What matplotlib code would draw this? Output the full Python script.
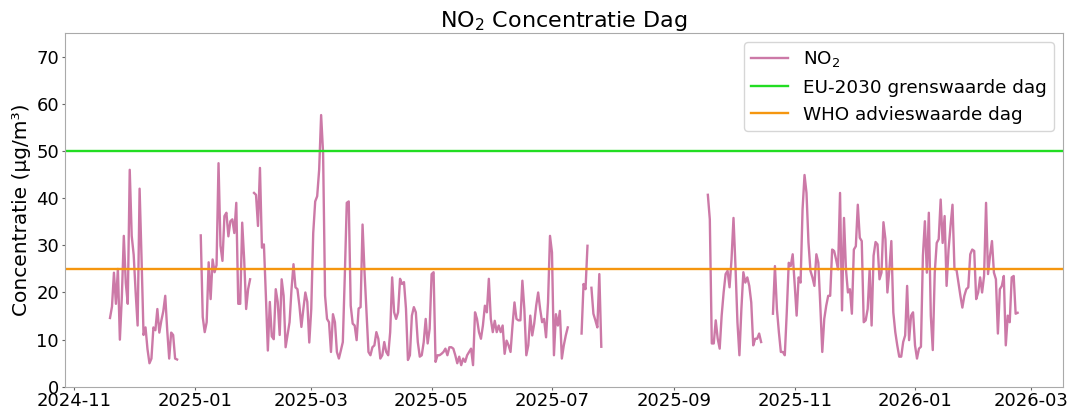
import numpy as np
import pandas as pd
import matplotlib
matplotlib.use('Agg')
import matplotlib.pyplot as plt
import matplotlib.dates as mdates

# daily NO2 values (ug/m3), one list per measured stretch
seg1_start = '2024-11-19'
seg1 = [14.6, 17, 24.2, 17.6, 25, 10, 19, 32, 22, 17.6, 46, 32, 28, 20, 13, 42, 27, 11, 12.6, 8,
        5, 6, 12.6, 12, 16.5, 11.5, 14, 16, 19.3, 12, 6, 11.5, 11, 6, 5.8]

seg2_start = '2025-01-04'
seg2 = [32.1, 14.8, 11.6, 13.7, 26.4, 18.6, 27, 24.3, 25.8, 47.4, 29.9, 26.7, 36.2, 36.9, 31.9,
        35.1, 35.5, 32.6, 39, 17.6, 17.6, 34.8, 27, 16.5, 20.7, 22.8]

seg3_start = '2025-01-31'
seg3 = [41.1, 40.7, 34.1, 46.4, 29.5, 30.2, 19.3, 7.7, 18, 10.7, 10.1, 20.7, 18, 11, 22.8, 19.3,
        8.4, 11, 13.7, 20.7, 26, 21.1, 20.7, 17.2, 12.7, 16.5, 20, 18, 9.4, 16.5, 32.6, 39.3, 40.4,
        46, 57.6, 49.5, 19.3, 14.4, 13.7, 7.4, 15.4, 13.7, 7.4, 6, 7.7, 9.5, 23.5, 39, 39.3,
        17.2, 13.4, 13, 9.9, 16.6, 16.9, 34.4, 24.3, 15.8, 7.4, 6.7, 8.4, 8.8, 11.6, 10.2, 6, 6.7,
        9.5, 7.4, 6.7, 11.6, 23.2, 15.8, 14.4, 15.8, 22.9, 21.8, 22.2, 16.6, 5.7, 6.7, 15.1, 16.9,
        15.8, 9.5, 6.4, 6.7, 9.5, 14.4, 9.2, 12.3, 23.9, 24.3, 5.3, 6.7, 6.7, 7, 7.4, 8.1, 6.7, 8.4,
        8.4, 8.1, 6.7, 5, 6.4, 4.6, 6, 5.3, 6.7, 7.4, 8.1, 4.6, 15.8, 14.4, 11.6, 10.2, 13, 17.2,
        15.8, 22.9, 14.4, 11.6, 14, 11.6,
        13, 11.6, 13, 7, 9.8, 8.8, 7.4, 13, 17.9, 14.4, 14.1, 14.1, 22.5, 16.5, 6.7, 8.8, 15.1,
        10.9, 13.4, 17.2, 20, 16.5, 13.7, 14.4, 10.5, 17.9, 32, 28.5, 6.7, 15.4, 13, 16.1, 6, 8.8,
        10.9, 12.6]

seg4_start = '2025-07-16'
seg4 = [11.3, 21.8, 20.7, 29.9, np.nan, 21, 15.5, 14.1, 12.6, 23.9, 8.5]

seg5_start = '2025-09-18'
seg5 = [40.7, 35.5, 9.2, 9.2, 14.1, 10.2, 8.1, 15.1, 20, 23.9, 24.6, 21.1, 27, 35.8, 25.6, 13.7,
        6.7, 16.5, 24.3, 22.1, 23.2, 21.4, 17.9, 8.8, 10.2, 10.2, 11.3, 9.5]

seg6_start = '2025-10-21'
seg6 = [15.5, 25.6, 16.5, 11.6, 7.4, 7.4, 6.7, 15.8, 26.3, 25.6, 28.1, 21.8, 15.1, 23.2, 22.1,
        37.6, 44.9, 41.1, 30.6, 24.6, 23.2, 21.4, 28.1, 26.3, 17.2, 7.4, 14.4, 17.2, 19.3, 19.3,
        29.1, 28.8, 27, 24.9, 41.1, 16.2, 35.8, 24.9, 20, 20.7, 15.5, 29.1, 29.8, 38.6, 31.6, 30.9,
        13.7, 14.1, 16.5,
        24.9, 13, 27.8, 30.7, 30.2, 22.8, 24.2, 34.9, 31.3, 20, 24.9, 30.9, 15.8, 11.6, 8.8, 6.4,
        6.4, 9.5, 10.9, 21.4, 9.9, 15.1, 15.8, 8.8, 6, 8.1, 8.5, 27.8, 35.1, 24.2, 36.9, 15.1, 7.8,
        24.2, 30.5, 31.3, 39.7, 30.5, 36.2, 21.4, 29.1, 34.1, 38.6, 24.9, 24.9, 22.1, 19.3, 16.8,
        19.3, 20.7, 21.1, 28.1, 29.1, 28.8, 18.6, 20, 23.2, 20, 23.5, 39, 23.9, 27.8, 30.9, 24.2,
        22.8, 11.3, 20.7, 21.4, 23.5, 8.8, 15.1, 13.7, 23.2, 23.5, 15.5, 15.7]

eu_limit = 50
who_limit = 25

# build one daily series, gaps become NaN so the line breaks
parts = []
for start, vals in [(seg1_start, seg1), (seg2_start, seg2), (seg3_start, seg3),
                    (seg4_start, seg4), (seg5_start, seg5), (seg6_start, seg6)]:
    parts.append(pd.Series(vals, index=pd.date_range(start, periods=len(vals), freq='D')))
no2 = pd.concat(parts)
no2 = no2[~no2.index.duplicated(keep='first')]
no2 = no2.reindex(pd.date_range(no2.index.min(), no2.index.max(), freq='D'))

fig, ax = plt.subplots(figsize=(10.77, 4.12), dpi=100)
ax.plot(no2.index, no2.values, color='#cc79a7', lw=1.7, label='NO$_2$')
ax.axhline(eu_limit, color='#22dd22', lw=1.7, label='EU-2030 grenswaarde dag')
ax.axhline(who_limit, color='#f5960f', lw=1.7, label='WHO advieswaarde dag')

ax.set_ylim(0, 75)
ax.set_title('NO$_2$ Concentratie Dag', fontsize=16, pad=4)
ax.set_ylabel('Concentratie (µg/m³)', fontsize=14.5, labelpad=4)
ax.xaxis.set_major_locator(mdates.MonthLocator(bymonth=[1, 3, 5, 7, 9, 11]))
ax.xaxis.set_major_formatter(mdates.DateFormatter('%Y-%m'))
ax.tick_params(labelsize=13, color='#666666', length=2.5, pad=1.5)
for s in ax.spines.values():
    s.set_color('#aaaaaa')
ax.legend(fontsize=13.2, loc='upper right')

plt.subplots_adjust(left=0.06, right=0.987, top=0.92, bottom=0.061)
plt.savefig('out.png')
